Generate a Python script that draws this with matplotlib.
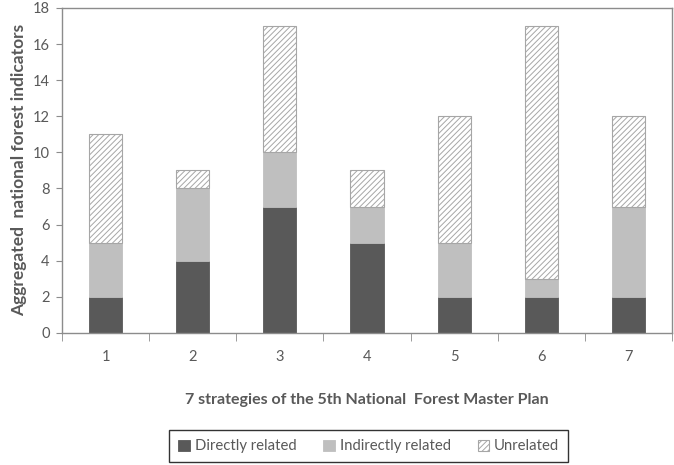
import matplotlib
matplotlib.use("Agg")
import matplotlib.pyplot as plt
import numpy as np

strategies = ["1", "2", "3", "4", "5", "6", "7"]
directly = [2, 4, 7, 5, 2, 2, 2]
indirectly = [3, 4, 3, 2, 3, 1, 5]
unrelated = [6, 1, 7, 2, 7, 14, 5]

plt.rcParams["font.family"] = ["Lato", "DejaVu Sans"]
plt.rcParams["hatch.color"] = "#a6a6a6"
plt.rcParams["hatch.linewidth"] = 0.7

fig = plt.figure(figsize=(6.74, 4.65), dpi=100)
ax = fig.add_axes([0.092, 0.284, 0.905, 0.699])

x = np.arange(len(strategies))
w = 0.38
d = np.array(directly)
i = np.array(indirectly)
u = np.array(unrelated)
ax.bar(x, d, w, color="#595959", edgecolor="#595959", linewidth=0.6, label="Directly related")
ax.bar(x, i, w, bottom=d, color="#bfbfbf", edgecolor="#bfbfbf", linewidth=0.6, label="Indirectly related")
ax.bar(x, u, w, bottom=d + i, color="white", edgecolor="#a6a6a6", linewidth=0.8,
       hatch="//////", label="Unrelated")

ax.set_xlim(-0.5, len(strategies) - 0.5)
ax.set_ylim(0, 18)
ax.set_yticks(range(0, 19, 2))
ax.set_xticks(x)
ax.set_xticklabels(strategies)
ax.set_xticks(np.arange(-0.5, len(strategies), 1), minor=True)
ax.tick_params(axis="x", which="major", length=0, pad=12, labelsize=10.5, colors="#595959")
ax.tick_params(axis="x", which="minor", length=6, color="#8c8c8c", direction="out")
ax.tick_params(axis="y", length=4, color="#8c8c8c", labelsize=10.5, labelcolor="#595959", pad=5)
for s in ax.spines.values():
    s.set_color("#8c8c8c")
    s.set_linewidth(1.0)

ax.set_ylabel("Aggregated  national forest indicators", fontsize=12.5, fontweight="bold",
              color="#595959", labelpad=4)
ax.set_xlabel("7 strategies of the 5th National  Forest Master Plan", fontsize=11.5,
              fontweight="bold", color="#595959", labelpad=21)

leg = fig.legend(loc="center", bbox_to_anchor=(0.547, 0.040), ncol=3, frameon=True,
                 fancybox=False, edgecolor="black", fontsize=10.75, handlelength=0.8,
                 handleheight=0.8, handletextpad=0.3, columnspacing=1.8,
                 borderpad=0.6)
leg.get_frame().set_linewidth(1.0)
for t in leg.get_texts():
    t.set_color("#595959")

fig.savefig("out.png", dpi=100)
